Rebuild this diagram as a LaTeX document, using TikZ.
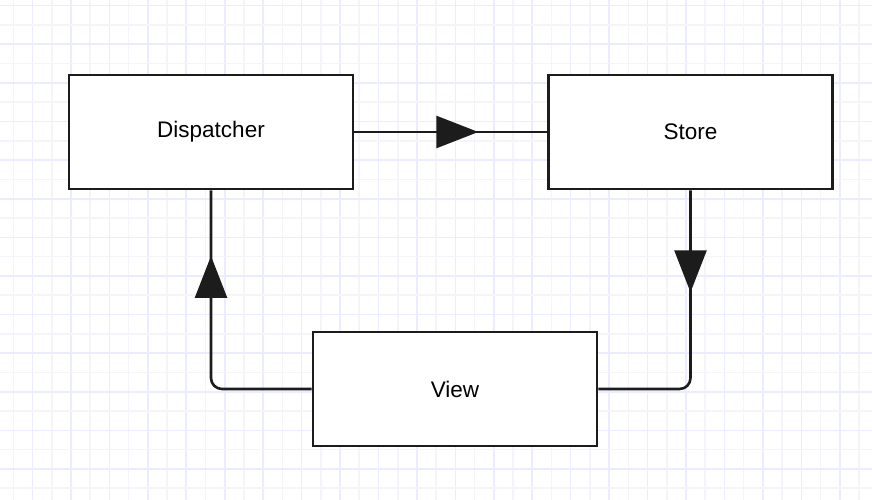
\documentclass[tikz,border=0pt]{standalone}
\usepackage{fontspec}
\setmainfont{Liberation Sans}
\usetikzlibrary{arrows.meta,decorations.markings}

\definecolor{gridlight}{RGB}{244,244,250}
\definecolor{gridblue}{RGB}{236,236,255}
\definecolor{ink}{RGB}{28,28,28}

\tikzset{
  block/.style={draw=ink, line width=2.6pt, fill=white, minimum width=284pt,
    minimum height=114pt, inner sep=0pt, font=\fontsize{22.5}{26}\selectfont},
  conn/.style={draw=ink, line width=2.6pt, rounded corners=11pt},
  tipat/.style={postaction={decorate, decoration={markings,
    mark=at position #1 with {\arrow[ink]{Triangle[length=42pt,width=32pt]}}}}}
}

\begin{document}
\begin{tikzpicture}[x=1pt,y=-1pt]
  \useasboundingbox (0,0) rectangle (872,500);
  \fill[white] (0,0) rectangle (872,500);

  % squared paper: every other line a little bluer
  \foreach \k in {0,...,44} {
    \pgfmathsetmacro{\gx}{13.3+19.22*\k}
    \pgfmathparse{isodd(\k)}
    \ifnum\pgfmathresult=1
      \draw[gridblue, line width=1.6pt] (\gx,0) -- (\gx,500);
    \else
      \draw[gridlight, line width=1.6pt] (\gx,0) -- (\gx,500);
    \fi
  }
  \foreach \k in {0,...,25} {
    \pgfmathsetmacro{\gy}{5.7+19.3*\k}
    \pgfmathparse{isodd(\k)}
    \ifnum\pgfmathresult=0
      \draw[gridblue, line width=1.6pt] (0,\gy) -- (872,\gy);
    \else
      \draw[gridlight, line width=1.6pt] (0,\gy) -- (872,\gy);
    \fi
  }

  \node[block] (disp)  at (211,132)   {Dispatcher};
  \node[block] (store) at (690.5,132) {Store};
  \node[block] (view)  at (455,389)   {View};

  \coordinate (sv) at (store.south |- view.east);
  \coordinate (vd) at (disp.south |- view.west);

  \draw[conn, tipat=124pt] (disp.east) -- (store.west);
  \draw[conn, tipat=102pt] (store.south) -- (sv) -- (view.east);
  \draw[conn, tipat=229pt] (view.west) -- (vd) -- (disp.south);
\end{tikzpicture}
\end{document}
